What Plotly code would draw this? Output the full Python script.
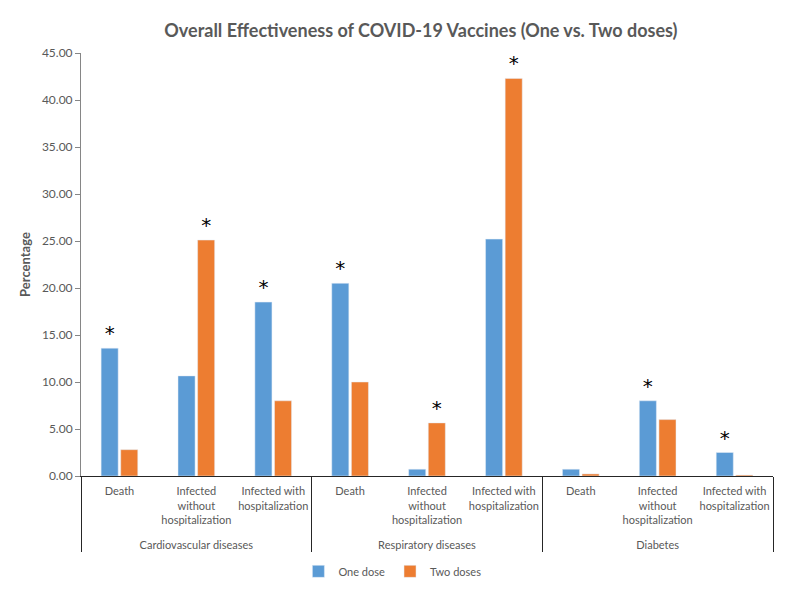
import plotly.graph_objects as go

groups = ["Cardiovascular diseases"] * 3 + ["Respiratory diseases"] * 3 + ["Diabetes"] * 3
outcomes = ["Death",
            "Infected<br>without<br>hospitalization<br><span style='font-size:13px'> </span>",
            "Infected with<br>hospitalization"] * 3
one_dose = [13.6, 10.65, 18.5, 20.5, 0.72, 25.2, 0.72, 8.0, 2.5]
two_doses = [2.8, 25.1, 8.0, 10.0, 5.65, 42.3, 0.22, 6.0, 0.1]
one_star = ["*", "", "*", "*", "", "", "", "*", "*"]
two_star = ["", "*", "", "", "*", "*", "", "", ""]
y_ticks = [0, 5, 10, 15, 20, 25, 30, 35, 40, 45]

FONT = "Lato"
GRAY = "#595959"
STAR = dict(size=20, color="#000000", family="DejaVu Sans")

fig = go.Figure()
fig.add_trace(go.Bar(
    x=[groups, outcomes], y=one_dose, name="One dose",
    marker=dict(color="#5B9BD5"),
    text=one_star, textposition="outside", cliponaxis=False,
    textfont=STAR, outsidetextfont=STAR,
))
fig.add_trace(go.Bar(
    x=[groups, outcomes], y=two_doses, name="Two doses",
    marker=dict(color="#ED7D31"),
    text=two_star, textposition="outside", cliponaxis=False,
    textfont=STAR, outsidetextfont=STAR,
))

fig.update_layout(
    width=782, height=585,
    paper_bgcolor="white", plot_bgcolor="white",
    margin=dict(l=73, r=17, t=45, b=117),
    barmode="group", bargap=0.49, bargroupgap=0.13,
    font=dict(family=FONT, color=GRAY, size=11),
    title=dict(
        text="<b>Overall Effectiveness of COVID-19 Vaccines (One vs. Two doses)</b>",
        x=0.528, xanchor="center", y=0.961, yanchor="middle",
        font=dict(size=18, color=GRAY, family=FONT),
    ),
    legend=dict(
        orientation="h", x=0.45, xanchor="center",
        yref="container", y=0.037, yanchor="middle",
        font=dict(size=11, color=GRAY), traceorder="normal", itemwidth=30,
    ),
)
fig.update_yaxes(
    range=[0, 45], tickvals=y_ticks, tickformat=".2f", automargin=False,
    showgrid=False, zeroline=False,
    showline=True, linecolor="#868686", linewidth=1,
    ticks="outside", ticklen=5, tickcolor="#868686",
    tickfont=dict(size=12, color=GRAY),
    title=dict(text="<b>Percentage</b>", font=dict(size=13, color=GRAY), standoff=8),
)
fig.update_xaxes(
    type="multicategory", tickangle=0, automargin=False,
    showgrid=False, showline=True, linecolor="#262626", linewidth=1,
    showdividers=True, dividercolor="#262626", dividerwidth=1,
    tickfont=dict(size=11, color=GRAY), ticklabelstandoff=5,
    ticks="",
)

fig.write_html("out.html")
